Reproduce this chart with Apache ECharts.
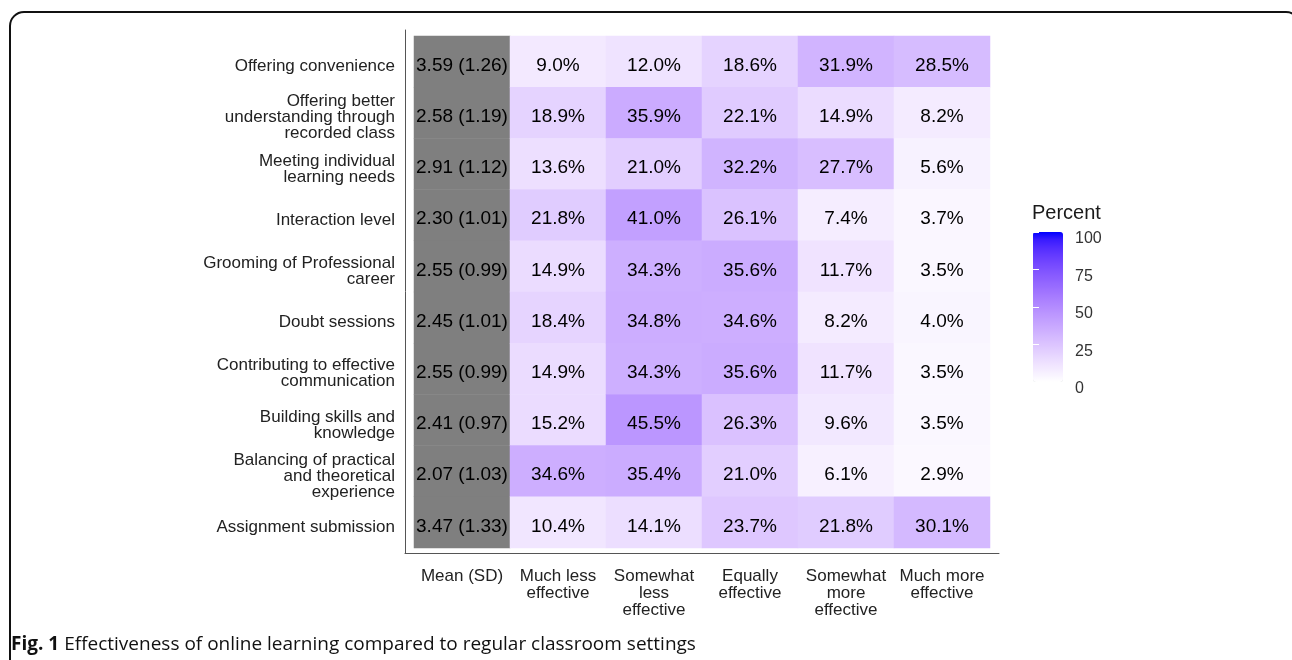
<!DOCTYPE html>
<html>
<head>
<meta charset="utf-8">
<script src="https://cdn.jsdelivr.net/npm/echarts@6/dist/echarts.min.js"></script>
<style>
html,body{margin:0;padding:0;background:#fff;}
#chart{width:1292px;height:660px;}
</style>
</head>
<body>
<div id="chart"></div>
<script>
// ---- data ----
const rowLabels = [
  "Offering convenience",
  "Offering better\nunderstanding through\nrecorded class",
  "Meeting individual\nlearning needs",
  "Interaction level",
  "Grooming of Professional\ncareer",
  "Doubt sessions",
  "Contributing to effective\ncommunication",
  "Building skills and\nknowledge",
  "Balancing of practical\nand theoretical\nexperience",
  "Assignment submission"
];
const colLabels = [
  "Mean (SD)",
  "Much less\neffective",
  "Somewhat\nless\neffective",
  "Equally\neffective",
  "Somewhat\nmore\neffective",
  "Much more\neffective"
];
const means = [3.59, 2.58, 2.91, 2.30, 2.55, 2.45, 2.55, 2.41, 2.07, 3.47];
const sds   = [1.26, 1.19, 1.12, 1.01, 0.99, 1.01, 0.99, 0.97, 1.03, 1.33];
const muchLess     = [9.0, 18.9, 13.6, 21.8, 14.9, 18.4, 14.9, 15.2, 34.6, 10.4];
const somewhatLess = [12.0, 35.9, 21.0, 41.0, 34.3, 34.8, 34.3, 45.5, 35.4, 14.1];
const equally      = [18.6, 22.1, 32.2, 26.1, 35.6, 34.6, 35.6, 26.3, 21.0, 23.7];
const somewhatMore = [31.9, 14.9, 27.7, 7.4, 11.7, 8.2, 11.7, 9.6, 6.1, 21.8];
const muchMore     = [28.5, 8.2, 5.6, 3.7, 3.5, 4.0, 3.5, 3.5, 2.9, 30.1];
const legendMin = 0, legendMax = 100, legendStep = 25;
const legendTitle = "Percent";
const captionBold = "Fig. 1";
const captionText = "Effectiveness of online learning compared to regular classroom settings";

// ---- Lab gradient white -> blue (like ggplot scale_fill_gradient) ----
function lin(c){c/=255;return c<=0.04045?c/12.92:Math.pow((c+0.055)/1.055,2.4);}
function gam(c){c=c<=0.0031308?12.92*c:1.055*Math.pow(c,1/2.4)-0.055;return Math.max(0,Math.min(255,Math.round(c*255)));}
const Xn=0.95047,Yn=1,Zn=1.08883;
function f(t){return t>0.008856?Math.cbrt(t):7.787*t+16/116;}
function finv(t){return t>0.206893?t*t*t:(t-16/116)/7.787;}
function rgb2lab(r,g,b){
  r=lin(r);g=lin(g);b=lin(b);
  const X=0.4124*r+0.3576*g+0.1805*b, Y=0.2126*r+0.7152*g+0.0722*b, Z=0.0193*r+0.1192*g+0.9505*b;
  const fx=f(X/Xn),fy=f(Y/Yn),fz=f(Z/Zn);
  return [116*fy-16,500*(fx-fy),200*(fy-fz)];
}
function lab2hex(L,a,b){
  const fy=(L+16)/116,fx=fy+a/500,fz=fy-b/200;
  const X=Xn*finv(fx),Y=Yn*finv(fy),Z=Zn*finv(fz);
  const r=3.2406*X-1.5372*Y-0.4986*Z, g=-0.9689*X+1.8758*Y+0.0415*Z, bb=0.0557*X-0.2040*Y+1.0570*Z;
  return '#'+[gam(r),gam(g),gam(bb)].map(v=>v.toString(16).padStart(2,'0')).join('');
}
const lw=rgb2lab(255,255,255), lb=rgb2lab(0,0,255);
const stops=[];
for(let i=0;i<=20;i++){const t=i/20;stops.push(lab2hex(lw[0]+(lb[0]-lw[0])*t,lw[1]+(lb[1]-lw[1])*t,lw[2]+(lb[2]-lw[2])*t));}

// ---- build series data ----
const pctCols=[muchLess,somewhatLess,equally,somewhatMore,muchMore];
const meanData=means.map((m,i)=>[0,i,m]);
const pctData=[];
pctCols.forEach((arr,c)=>arr.forEach((v,i)=>pctData.push([c+1,i,v])));

const FONT='"Liberation Sans", Arial, Helvetica, sans-serif';
const chart=echarts.init(document.getElementById('chart'),null,{renderer:'canvas'});
chart.setOption({
  animation:false,
  backgroundColor:'#ffffff',
  title:[
    {text:legendTitle,left:1032,top:203,padding:0,textStyle:{fontFamily:FONT,fontSize:20,fontWeight:'normal',color:'#1a1a1a'}},
    {text:'{b|'+captionBold+'} {n|'+captionText+'}',left:11,top:635,padding:0,
     textStyle:{fontWeight:'normal',rich:{b:{fontFamily:'"Open Sans", sans-serif',fontWeight:'bold',fontSize:19,color:'#111'},
                      n:{fontFamily:'"Open Sans", sans-serif',fontWeight:'normal',fontSize:19,color:'#111'}}}}
  ],
  grid:[
    {left:414,top:36,width:576,height:512},
    {left:405,top:30,width:594,height:523},
    {left:1033,top:232,width:30,height:150},
    {left:414,top:41,width:576,height:512}
  ],
  xAxis:[
    {type:'category',gridIndex:0,data:colLabels,position:'bottom',
     axisLine:{show:false},axisTick:{show:false},splitLine:{show:false},
     axisLabel:{interval:0,margin:20,fontFamily:FONT,fontSize:17,lineHeight:17,color:'#222',align:'center',verticalAlign:'top'}},
    {type:'value',gridIndex:1,min:0,max:1,axisLine:{show:true,onZero:false,lineStyle:{color:'#555',width:1}},
     axisTick:{show:false},axisLabel:{show:false},splitLine:{show:false}},
    {type:'value',gridIndex:2,min:0,max:1,show:false},
    {type:'value',gridIndex:3,min:0,max:1,show:false}
  ],
  yAxis:[
    {type:'category',gridIndex:0,data:rowLabels,inverse:true,
     axisLine:{show:false},axisTick:{show:false},splitLine:{show:false},axisLabel:{show:false}},
    {type:'value',gridIndex:1,min:0,max:1,axisLine:{show:true,onZero:false,lineStyle:{color:'#555',width:1}},
     axisTick:{show:false},axisLabel:{show:false},splitLine:{show:false}},
    {type:'value',gridIndex:2,min:legendMin,max:legendMax,interval:legendStep,position:'right',
     axisLine:{show:false},axisTick:{show:true,inside:true,length:6,lineStyle:{color:'#ffffff',width:1}},
     axisLabel:{margin:12,fontFamily:FONT,fontSize:16,color:'#333',verticalAlign:'top',lineHeight:14},splitLine:{show:false},z:10},
    {type:'value',gridIndex:2,min:legendMin,max:legendMax,interval:legendStep,position:'left',
     axisLine:{show:false},axisTick:{show:true,inside:true,length:6,lineStyle:{color:'#ffffff',width:1}},
     axisLabel:{show:false},splitLine:{show:false},z:10},
    {type:'category',gridIndex:3,data:rowLabels,inverse:true,
     axisLine:{show:false},axisTick:{show:false},splitLine:{show:false},
     axisLabel:{interval:0,margin:19,fontFamily:FONT,fontSize:17,lineHeight:16,color:'#222',align:'right'}}
  ],
  visualMap:{
    type:'continuous',min:legendMin,max:legendMax,seriesIndex:1,calculable:false,
    orient:'vertical',left:1033,top:232,itemWidth:30,itemHeight:150,padding:0,
    text:null,hoverLink:false,inRange:{color:stops}
  },
  graphic:[
    {type:'rect',shape:{x:10,y:12,width:1290,height:720,r:14},style:{fill:null,stroke:'#111',lineWidth:2},silent:true,z:100}
  ],
  series:[
    {type:'heatmap',xAxisIndex:0,yAxisIndex:0,data:meanData,
     itemStyle:{color:'#7f7f7f'},emphasis:{disabled:true},
     label:{show:true,fontFamily:FONT,fontSize:19,color:'#000',offset:[0,4],
       formatter:p=>means[p.data[1]].toFixed(2)+' ('+sds[p.data[1]].toFixed(2)+')'}},
    {type:'heatmap',xAxisIndex:0,yAxisIndex:0,data:pctData,emphasis:{disabled:true},
     label:{show:true,fontFamily:FONT,fontSize:19,color:'#000',offset:[0,4],
       formatter:p=>p.data[2].toFixed(1)+'%'}}
  ]
});
</script>
</body>
</html>
